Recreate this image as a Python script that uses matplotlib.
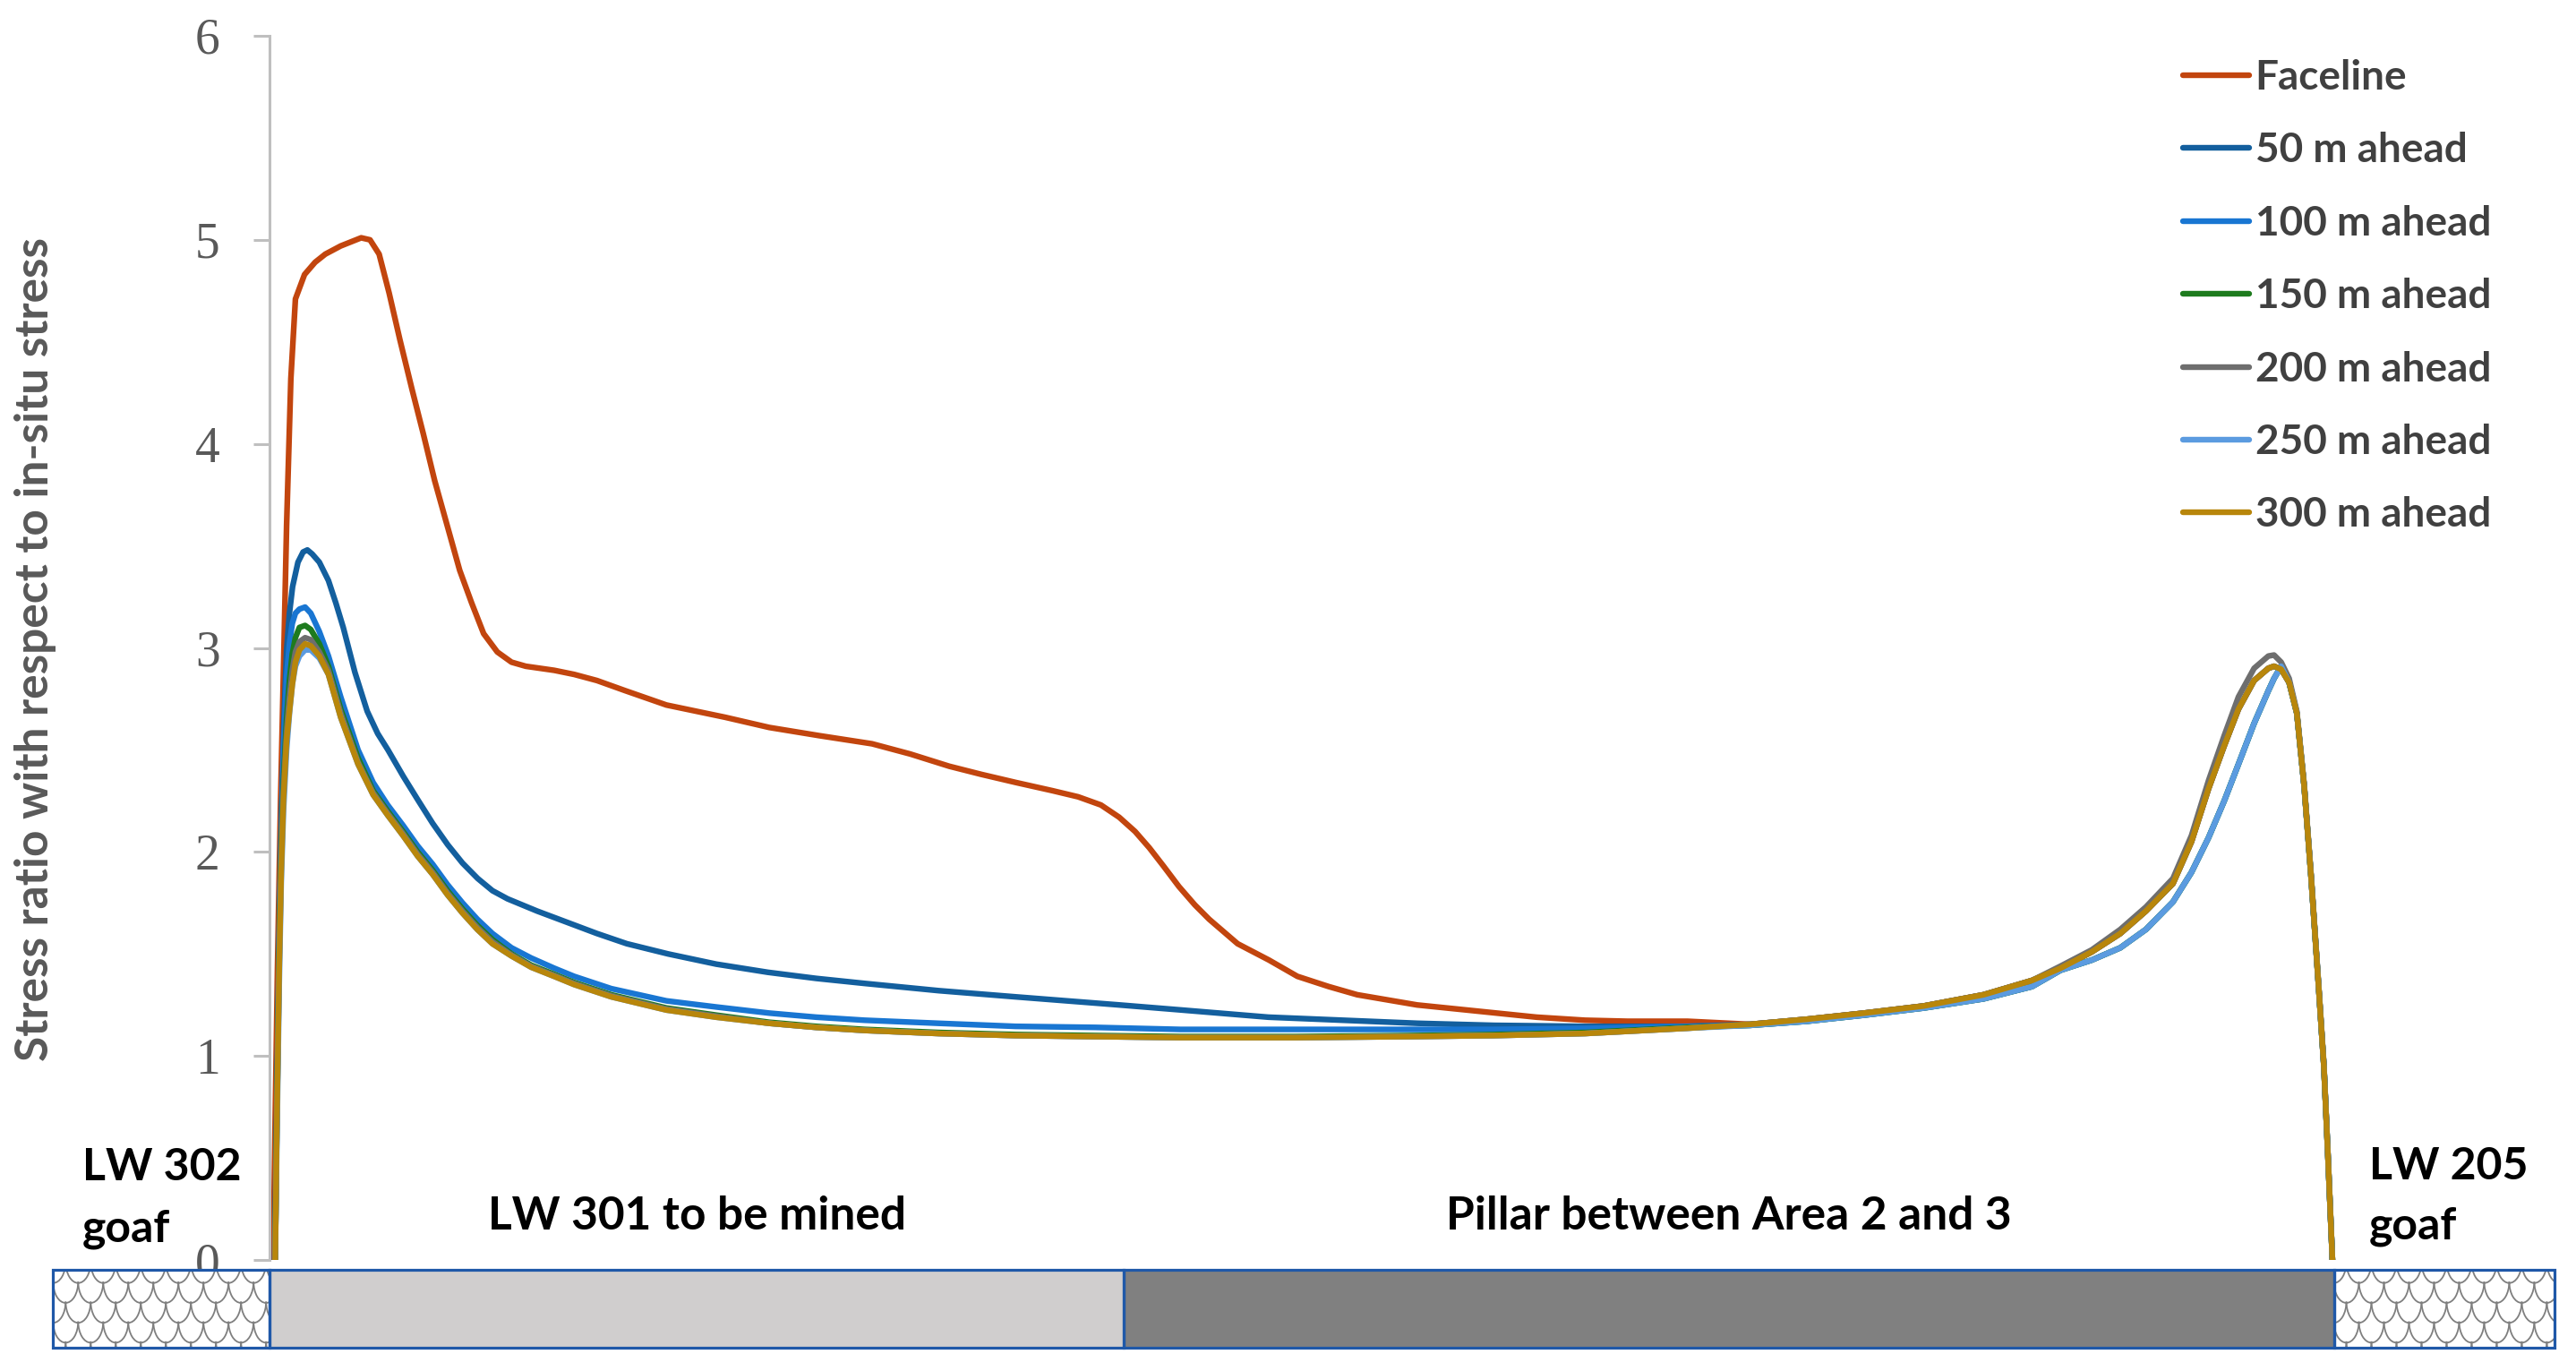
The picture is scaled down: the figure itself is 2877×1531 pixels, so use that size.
import matplotlib
matplotlib.use('Agg')
import matplotlib.pyplot as plt
from matplotlib.patches import Rectangle, Arc

# ---------------------------------------------------------------
# stress ratio along the section (x in m from LW 301 goaf edge)
# ---------------------------------------------------------------

labels = ['Faceline', '50 m ahead', '100 m ahead', '150 m ahead',
          '200 m ahead', '250 m ahead', '300 m ahead']
colors = ['#C2450E', '#135F9E', '#1976D2', '#1E7B1E',
          '#6E6E6E', '#5B9BE0', '#B8860B']

# common right hand part (pillar abutment) - upper and lower branch
right_x = [520, 540, 560, 581, 602, 619, 629, 640, 650, 659, 668.5, 675, 681,
           686.5, 691.5, 697, 702, 704, 706.5, 709.3, 712, 714.6, 717, 719.8,
           721.5, 722.9, 724.5]
right_up = [1.155, 1.18, 1.21, 1.245, 1.30, 1.37, 1.43, 1.51, 1.60, 1.71, 1.845,
            2.05, 2.31, 2.52, 2.70, 2.84, 2.90, 2.91, 2.895, 2.83, 2.68, 2.32,
            1.88, 1.31, 0.95, 0.52, 0.0]
right_gray = [1.155, 1.18, 1.21, 1.245, 1.30, 1.37, 1.44, 1.52, 1.62, 1.73, 1.87,
              2.08, 2.35, 2.57, 2.76, 2.90, 2.96, 2.965, 2.93, 2.85, 2.69, 2.33,
              1.89, 1.32, 0.96, 0.53, 0.0]
right_low = [1.15, 1.17, 1.20, 1.235, 1.28, 1.34, 1.42, 1.47, 1.53, 1.62, 1.755,
             1.90, 2.07, 2.25, 2.43, 2.63, 2.79, 2.85, 2.91, 2.83, 2.68, 2.32,
             1.88, 1.31, 0.95, 0.52, 0.0]

face_x = [1.3, 2.0, 2.8, 3.9, 5.0, 6.0, 7.5, 9.1, 12.3, 16.0, 19.6, 25.0, 32.2,
          35.3, 38.5, 42.0, 45.8, 50.0, 54.0, 58.0, 62.0, 66.8, 71.0, 75.2, 80.0,
          85.0, 90.0, 100.0, 107.0, 115.0, 125.0, 139.4, 160.0, 175.5, 193.0,
          211.6, 225.0, 238.7, 250.0, 262.2, 275.0, 284.0, 292.0, 298.4, 304.0,
          309.0, 314.0, 319.4, 325.0, 330.0, 340.0, 351.0, 361.0, 372.0, 382.0,
          403.0, 424.0, 445.0, 462.0, 477.0, 498.0] + right_x
face_y = [0.0, 0.7, 1.43, 2.26, 2.95, 3.6, 4.32, 4.71, 4.83, 4.89, 4.93, 4.97, 5.01,
          5.0, 4.93, 4.74, 4.51, 4.27, 4.05, 3.82, 3.62, 3.38, 3.22, 3.07, 2.98,
          2.93, 2.91, 2.89, 2.87, 2.84, 2.79, 2.72, 2.66, 2.61, 2.57,
          2.53, 2.48, 2.42, 2.38, 2.34, 2.30, 2.27, 2.23, 2.17, 2.10,
          2.02, 1.93, 1.83, 1.74, 1.67, 1.55, 1.47, 1.39, 1.34, 1.30,
          1.25, 1.22, 1.19, 1.175, 1.17, 1.17] + right_up

m50_x = [1.8, 2.6, 3.4, 4.3, 5.1, 6.0, 7.0, 8.1, 10.0, 11.8, 13.3, 15.0, 17.5,
         20.7, 23.3, 25.9, 30.0, 34.3, 38.0, 41.6, 47.0, 52.1, 57.3, 62.6, 67.8,
         73.1, 78.3, 83.6, 94.0, 104.5, 115.0, 125.5, 140.0, 156.9, 175.0, 192.0,
         209.3, 235.0, 261.7, 280.0, 298.4, 320.4, 350.8, 377.0, 403.2, 430.0,
         462.0, 498.0] + right_x
m50_y = [0.0, 0.8, 1.55, 2.2, 2.65, 2.99, 3.17, 3.30, 3.42, 3.47, 3.48, 3.46, 3.42,
         3.33, 3.22, 3.10, 2.88, 2.69, 2.58, 2.50, 2.37, 2.255, 2.14, 2.035, 1.945,
         1.87, 1.81, 1.77, 1.71, 1.655, 1.60, 1.55, 1.50, 1.45, 1.41, 1.38,
         1.355, 1.32, 1.29, 1.27, 1.25, 1.225, 1.19, 1.175, 1.16, 1.15,
         1.145, 1.145] + right_up

# curves 100 - 300 m share the same x stations on the left
left_x = [2.0, 2.6, 3.4, 4.1, 4.9, 6.0, 7.0, 8.0, 9.1, 10.5, 12.5, 14.5, 17.5,
          20.7, 25.0, 31.1, 36.4, 41.5, 46.9, 52.0, 57.3, 62.5, 67.8, 73.0, 78.3,
          85.0, 91.9, 100.0, 107.0, 120.0, 139.4, 156.9, 175.5, 192.0, 209.0,
          235.0, 262.0, 290.0, 320.0, 360.0, 400.0, 430.0, 462.0, 498.0]
m100_y = [0.0, 0.75, 1.6, 2.1, 2.5, 2.86, 3.02, 3.12, 3.17, 3.19, 3.20, 3.17, 3.08,
          2.96, 2.76, 2.50, 2.34, 2.23, 2.13, 2.03, 1.94, 1.84, 1.75, 1.67, 1.60,
          1.53, 1.48, 1.43, 1.39, 1.33, 1.27, 1.24, 1.21, 1.19, 1.175,
          1.16, 1.145, 1.14, 1.13, 1.13, 1.13, 1.13, 1.135, 1.145]
m150_y = [0.0, 0.72, 1.5, 2.0, 2.35, 2.65, 2.84, 2.97, 3.05, 3.10, 3.11, 3.09, 3.02,
          2.91, 2.70, 2.46, 2.30, 2.20, 2.10, 2.00, 1.91, 1.81, 1.72, 1.64, 1.57,
          1.50, 1.445, 1.40, 1.36, 1.30, 1.235, 1.20, 1.165, 1.145, 1.13,
          1.115, 1.105, 1.10, 1.095, 1.095, 1.10, 1.105, 1.115, 1.14]
m200_y = [0.0, 0.71, 1.47, 1.95, 2.30, 2.59, 2.76, 2.89, 2.98, 3.03, 3.05, 3.04, 2.98,
          2.89, 2.68, 2.44, 2.29, 2.19, 2.09, 1.99, 1.90, 1.80, 1.71, 1.63, 1.56,
          1.495, 1.44, 1.395, 1.355, 1.295, 1.23, 1.195, 1.16, 1.14, 1.125,
          1.11, 1.10, 1.095, 1.09, 1.09, 1.095, 1.10, 1.11, 1.136]
m250_y = [0.0, 0.6, 1.35, 1.85, 2.2, 2.5, 2.68, 2.82, 2.91, 2.96, 2.99, 2.99, 2.95,
          2.87, 2.66, 2.43, 2.28, 2.18, 2.08, 1.98, 1.89, 1.79, 1.70, 1.62, 1.55,
          1.49, 1.435, 1.39, 1.35, 1.29, 1.225, 1.19, 1.16, 1.14, 1.125,
          1.11, 1.10, 1.095, 1.09, 1.09, 1.095, 1.10, 1.11, 1.136]
m300_y = [0.0, 0.7, 1.43, 1.9, 2.26, 2.55, 2.69, 2.82, 2.93, 2.99, 3.02, 3.01, 2.96,
          2.87, 2.66, 2.43, 2.28, 2.18, 2.08, 1.98, 1.89, 1.79, 1.70, 1.62, 1.55,
          1.49, 1.435, 1.39, 1.35, 1.29, 1.225, 1.19, 1.16, 1.14, 1.125,
          1.11, 1.10, 1.095, 1.09, 1.09, 1.095, 1.10, 1.11, 1.136]

series_x = [face_x, m50_x, left_x + right_x, left_x + right_x,
            left_x + right_x, left_x + right_x, left_x + right_x]
series_y = [face_y, m50_y, m100_y + right_low, m150_y + right_low,
            m200_y + right_gray, m250_y + right_low, m300_y + right_up]

# section strip under the chart
zone_edges = [-76, 0, 300, 725, 802.5]
zone_fill = ['goaf', '#D0CECE', '#808080', 'goaf']

zone_text = ['LW 301 to be mined', 'Pillar between Area 2 and 3']
zone_text_x = [150, 512.5]

#=====================================================================

fig = plt.figure(figsize=(28.77, 15.31), dpi=100)
ax = fig.add_axes([301 / 2877, 124 / 1531, (2853 - 301) / 2877, (1407 - 40) / 1531])

for xs, ys, c, lab in zip(series_x, series_y, colors, labels):
    ax.plot(xs, ys, color=c, lw=4.6, label=lab, solid_capstyle='round',
            solid_joinstyle='round')

ax.set_xlim(0, 802.5)
ax.set_ylim(0, 6)
ax.set_yticks(range(7))
ax.set_xticks([])
for s in ['top', 'right', 'bottom']:
    ax.spines[s].set_visible(False)
ax.spines['left'].set_color('#BFBFBF')
ax.spines['left'].set_linewidth(2.2)
ax.tick_params(axis='y', length=13, width=2.2, color='#BFBFBF', pad=27,
               labelcolor='#595959', labelsize=40)
for t in ax.get_yticklabels():
    t.set_family('Liberation Serif')

fig.text(40 / 2877, 1 - 725 / 1531, 'Stress ratio with respect to in-situ stress',
         rotation=90, ha='center', va='center', fontsize=37, family='Lato',
         weight='bold', color='#595959')

leg = ax.legend(loc='upper left', bbox_to_anchor=(2438 / 2877, 1 - 66 / 1531),
                bbox_transform=fig.transFigure, frameon=False,
                prop={'family': 'Lato', 'weight': 'bold', 'size': 33},
                handlelength=1.62, handletextpad=0.14, labelspacing=0.86,
                borderpad=0, borderaxespad=0, labelcolor='#404040')

# strip
bar_top = -0.048
bar_bot = -0.43
for i in range(len(zone_fill)):
    x0, x1 = zone_edges[i], zone_edges[i + 1]
    fc = 'white' if zone_fill[i] == 'goaf' else zone_fill[i]
    r = Rectangle((x0, bar_bot), x1 - x0, bar_top - bar_bot, facecolor=fc,
                  edgecolor='none', clip_on=False, zorder=3)
    ax.add_patch(r)
    if zone_fill[i] == 'goaf':
        # scale pattern
        w = 8.8
        h = 0.13
        row = 0
        yy = bar_top + h * 0.3
        while yy > bar_bot - h:
            xx = x0 - w + (row % 2) * w / 2
            while xx < x1 + w:
                a = Arc((xx, yy), w, h * 1.6, theta1=180, theta2=360,
                        color='#7F7F7F', lw=1.3, zorder=3.5)
                ax.add_patch(a)
                a.set_clip_path(r)
                xx += w
            yy -= h * 0.75
            row += 1
    ax.add_patch(Rectangle((x0, bar_bot), x1 - x0, bar_top - bar_bot,
                           facecolor='none', edgecolor='#1F58A8', lw=2.3,
                           clip_on=False, zorder=4))

for t, xc in zip(zone_text, zone_text_x):
    ax.text(xc, 0.15, t, ha='center', va='baseline', fontsize=37,
            family='Lato', weight='bold', color='black')

ax.text(-65.7, 0.391, 'LW 302', ha='left', va='baseline', fontsize=36,
        family='Lato', weight='bold', clip_on=False)
ax.text(-65.7, 0.088, 'goaf', ha='left', va='baseline', fontsize=36,
        family='Lato', weight='bold', clip_on=False)
ax.text(737.4, 0.395, 'LW 205', ha='left', va='baseline', fontsize=36,
        family='Lato', weight='bold', clip_on=False)
ax.text(737.4, 0.105, 'goaf', ha='left', va='baseline', fontsize=36,
        family='Lato', weight='bold', clip_on=False)

fig.savefig('out.png', dpi=100, facecolor='white')
